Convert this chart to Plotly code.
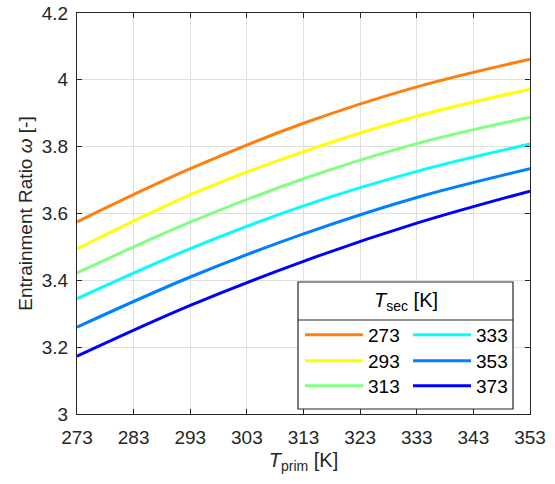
import plotly.graph_objects as go

# Data
t_prim = [273, 293, 313, 333, 353]
t_sec_labels = ["273", "293", "313", "333", "353", "373"]
omega_273 = [3.575, 3.734, 3.870, 3.979, 4.062]
omega_293 = [3.494, 3.656, 3.785, 3.891, 3.972]
omega_313 = [3.422, 3.574, 3.704, 3.809, 3.888]
omega_333 = [3.345, 3.495, 3.623, 3.726, 3.808]
omega_353 = [3.260, 3.410, 3.539, 3.648, 3.734]
omega_373 = [3.173, 3.325, 3.457, 3.571, 3.667]
series = [omega_273, omega_293, omega_313, omega_333, omega_353, omega_373]
colors = ["#FF7F0F", "#FFFF00", "#80FF80", "#00FFFF", "#0080FF", "#0000FF"]
x_ticks = [273, 283, 293, 303, 313, 323, 333, 343, 353]
y_ticks = [3, 3.2, 3.4, 3.6, 3.8, 4, 4.2]
y_tick_text = ["3", "3.2", "3.4", "3.6", "3.8", "4", "4.2"]

W, H = 555, 484
PL, PR, PT, PB = 77, 530, 13, 414
FONT = "Liberation Sans, Arial, sans-serif"
TXT = "#262626"


def px2paper_x(px):
    return (px - PL) / (PR - PL)


def px2paper_y(py):
    return (PB - py) / (PB - PT)


fig = go.Figure()
col_x = [300, 408]
row_y = [335, 361, 386]
for i, (lab, ys, c) in enumerate(zip(t_sec_labels, series, colors)):
    lname = "legend" if i == 0 else f"legend{i+1}"
    fig.add_trace(go.Scatter(
        x=t_prim, y=ys, mode="lines", name=lab,
        line=dict(color=c, width=3, shape="spline"),
        legend=lname,
    ))
    col, row = divmod(i, 3)
    fig.update_layout(**{lname: dict(
        x=px2paper_x(col_x[col]), y=px2paper_y(row_y[row]), xref="paper", yref="paper",
        xanchor="left", yanchor="middle", bgcolor="rgba(0,0,0,0)",
        font=dict(family=FONT, size=19, color="#000"), itemwidth=58,
        borderwidth=0,
    )})

L, R, T, B = 298, 513, 282, 409
fig.add_shape(type="rect", xref="paper", yref="paper",
              x0=px2paper_x(L), x1=px2paper_x(R), y0=px2paper_y(B), y1=px2paper_y(T),
              line=dict(color=TXT, width=1.2), fillcolor="white", layer="above")
fig.add_shape(type="line", xref="paper", yref="paper",
              x0=px2paper_x(L), x1=px2paper_x(R), y0=px2paper_y(320), y1=px2paper_y(320),
              line=dict(color=TXT, width=1.2), layer="above")
fig.add_annotation(text="<i>T</i><sub>sec</sub> [K]", xref="paper", yref="paper",
                   x=px2paper_x((L + R) / 2), y=px2paper_y(301), showarrow=False,
                   xanchor="center", yanchor="middle",
                   font=dict(family=FONT, size=20, color="#000"))

axis_common = dict(
    showline=True, linecolor=TXT, linewidth=1, mirror="ticks",
    ticks="inside", ticklen=5, tickcolor=TXT, tickwidth=1,
    showgrid=True, gridcolor="#DFDFDF", gridwidth=1, zeroline=False,
    tickfont=dict(family=FONT, size=19, color=TXT),
)
fig.update_xaxes(range=[273, 353], tickvals=x_ticks, ticktext=[str(v) for v in x_ticks],
                 tickangle=0, ticklabelstandoff=6,
                 title=dict(text="<i>T</i><sub>prim</sub> [K]", standoff=6,
                            font=dict(family=FONT, size=20, color=TXT)),
                 **axis_common)
fig.update_yaxes(range=[3, 4.2], tickvals=y_ticks, ticktext=y_tick_text,
                 ticklabelstandoff=4,
                 title=dict(text="Entrainment Ratio <i>ω</i> [-]", standoff=4,
                            font=dict(family=FONT, size=19, color=TXT)),
                 **axis_common)

fig.update_layout(
    width=W, height=H, margin=dict(l=PL, r=W - PR, t=PT, b=H - PB, autoexpand=False),
    paper_bgcolor="white", plot_bgcolor="white",
    showlegend=True,
)
fig.write_html("out.html")
